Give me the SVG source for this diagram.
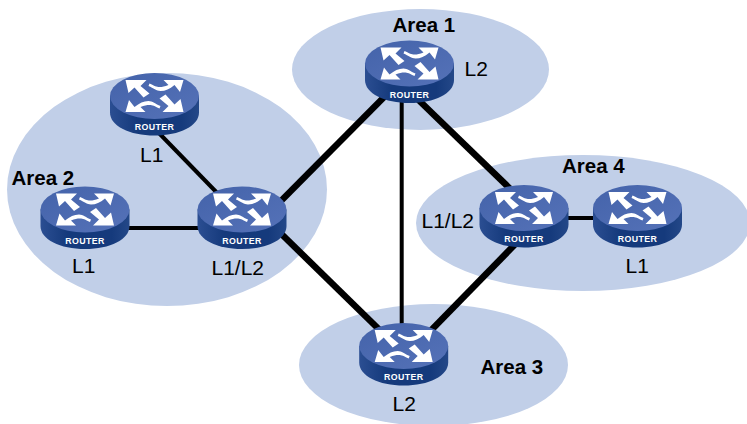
<svg xmlns="http://www.w3.org/2000/svg" width="747" height="424" viewBox="0 0 747 424">
<style>
.area{fill:#c1cfe8}
.t{font-family:"Liberation Sans",Arial,sans-serif;font-size:21px;fill:#000}
.b{font-weight:bold;font-size:20.500px}
.thin{stroke:#000;stroke-width:4;fill:none}
.thick{stroke:#000;stroke-width:6.500;fill:none}
.rt{font-family:"Liberation Sans",Arial,sans-serif;font-size:8.800px;font-weight:bold;fill:#fff;text-anchor:middle;letter-spacing:.4px}
</style>
<defs>
<linearGradient id="side" x1="0" x2="1" y1="0" y2="0"><stop offset="0" stop-color="#2b4e92"/><stop offset="0.3" stop-color="#153a7c"/><stop offset="0.8" stop-color="#153a7c"/><stop offset="1" stop-color="#244888"/></linearGradient>
<linearGradient id="top" x1="0" x2="1" y1="0" y2="1"><stop offset="0" stop-color="#4463aa"/><stop offset="1" stop-color="#5572b8"/></linearGradient>
<g id="a1">
<path d="M-29-16H-8L-14-10-5-2.500-11 1.500-20-8.500-26-3Z"/>
<path d="M29-16H9L14-11C10-9.500 8-9 5-9C2-9 0-10-5-12.500L-6-10C-1-8 2-5 6-5C11-5 15-7 20-11L25.500-4Z"/>
</g>
<g id="router">
<path d="M-44.500 0V16.500C-44.500 30-25 39.500 0 39.500S44.500 30 44.500 16.500V0Z" fill="url(#side)"/>
<ellipse cx="0" cy="0" rx="44.500" ry="23" fill="url(#top)"/>
<g fill="#fff">
<use href="#a1"/>
<use href="#a1" transform="rotate(180)"/>
</g>
<text class="rt" x="0" y="34">ROUTER</text>
</g>
</defs>
<g id="areas">
<ellipse class="area" cx="420.500" cy="69.500" rx="128.500" ry="60.500"/>
<ellipse class="area" cx="167" cy="189.500" rx="160" ry="116.500"/>
<ellipse class="area" cx="583" cy="223" rx="167" ry="68"/>
<ellipse class="area" cx="433.500" cy="365" rx="134.500" ry="61"/>
</g>
<g id="connectors">
<line class="thin" x1="155" y1="129" x2="225" y2="201"/>
<line class="thin" x1="85" y1="228" x2="242" y2="228"/>
<line class="thick" x1="400" y1="81" x2="270" y2="212"/>
<line class="thick" x1="262" y1="215" x2="395" y2="345"/>
<line class="thin" x1="401.700" y1="70" x2="401.700" y2="350"/>
<line class="thick" x1="400" y1="82" x2="530" y2="208"/>
<line class="thick" x1="405" y1="357" x2="530" y2="229"/>
<line class="thin" x1="524" y1="218" x2="638" y2="218"/>
</g>
<g id="r1"><use href="#router" x="409.500" y="63.500"/></g>
<g id="r2"><use href="#router" x="154.500" y="96"/></g>
<g id="r3"><use href="#router" x="85" y="209.500"/></g>
<g id="r4"><use href="#router" x="242" y="209.500"/></g>
<g id="r5"><use href="#router" x="524" y="208"/></g>
<g id="r6"><use href="#router" x="637.500" y="208"/></g>
<g id="r7"><use href="#router" x="403.700" y="346"/></g>
<g id="labels">
<text class="t b" x="392.500" y="32">Area 1</text>
<text class="t" x="464.500" y="76">L2</text>
<text class="t" x="140" y="162">L1</text>
<text class="t b" x="11.500" y="185">Area 2</text>
<text class="t" x="72" y="273">L1</text>
<text class="t" x="211.500" y="275">L1/L2</text>
<text class="t b" x="562" y="173">Area 4</text>
<text class="t" x="421.500" y="228">L1/L2</text>
<text class="t" x="625.500" y="273">L1</text>
<text class="t b" x="480.500" y="374">Area 3</text>
<text class="t" x="392.500" y="411">L2</text>
</g>
</svg>
